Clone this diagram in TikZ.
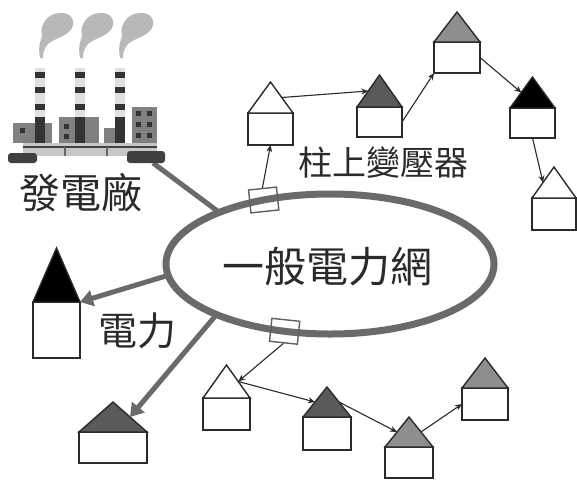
\documentclass[tikz,border=0pt]{standalone}
\usepackage{fontspec}
\newfontfamily\cjk{Noto Sans CJK TC}
\usetikzlibrary{shapes.geometric,arrows.meta,calc}
\definecolor{gridgray}{HTML}{6A6A6A}
\definecolor{roofdark}{HTML}{5A5A5A}
\definecolor{roofmid}{HTML}{8E8E8E}
\definecolor{ink}{HTML}{2A2A2A}
\tikzset{
  housebody/.style={draw=ink, line width=1.4pt, fill=white, rectangle, inner sep=0pt, outer sep=0pt, anchor=north west},
  roofline/.style={draw=ink, line width=1.4pt, line join=miter},
  feed/.style={draw=ink, line width=1.1pt, -{Stealth[length=7pt,width=6pt]}},
  supply/.style={draw=gridgray, line width=5pt, -{Triangle[length=13pt,width=16pt]}},
  xfmr/.style={draw=ink!75, line width=1.4pt, rectangle, minimum width=28pt, minimum height=23pt, inner sep=0pt},
  cjklabel/.style={text=ink, inner sep=0pt, font=\cjk\fontsize{#1}{#1}\selectfont},
  smoke/.style={fill=black!28},
  bldg/.style={fill=black!50},
  win/.style={fill=black!80},
}
% house: name, left x, roof base y, width, roof height, body height, roof colour
\newcommand{\house}[7]{%
  \node[housebody, minimum width=#4pt, minimum height=#6pt] (#1) at (#2,#3) {};
  \coordinate (#1-top) at ($(#1.north)+(0,-#5)$);
  \filldraw[roofline, fill=#7] (#1.north west) -- (#1-top) -- (#1.north east) -- cycle;
  \coordinate (#1-rl) at ($(#1.north west)!0.5!(#1-top)$);
  \coordinate (#1-rr) at ($(#1.north east)!0.5!(#1-top)$);
}
\begin{document}
\begin{tikzpicture}[x=1pt,y=-1pt]
\fill[white] (0,0) rectangle (577,480);
\useasboundingbox (0,0) rectangle (577,480);

% power grid ring
\node[draw=gridgray, line width=7pt, ellipse, minimum width=328pt, minimum height=140pt,
      inner sep=0pt, outer sep=0pt] (grid) at (330,264) {};
\node[cjklabel=42pt] (gridname) at (327,267) {一般電力網};

% line from the plant into the grid
\coordinate (plant) at (153,163);
\draw[gridgray, line width=5pt] (plant) -- (grid.155);

% power plant pictogram
\foreach \dx in {0,40,80}{
  \fill[smoke, shift={(\dx,0)}] (40,58) .. controls (38,48) and (40,42) .. (42,36)
    .. controls (39,25) and (48,13) .. (60,13) .. controls (70,12) and (76,20) .. (72,28)
    .. controls (68,36) and (55,38) .. (48,44) .. controls (44,48) and (43,53) .. (43,58) -- cycle;
}
\fill[bldg] (13,123) rectangle (52,143);
\fill[bldg] (59,117) rectangle (99,143);
\fill[bldg] (104,128) rectangle (117,143);
\fill[bldg] (132,107) rectangle (157,143);
\fill[win] (20,128) rectangle (25,133);
\fill[win] (64,124) rectangle (69,129);
\fill[win] (64,134) rectangle (69,139);
\foreach \wx in {136,147}{
  \foreach \wy in {111,122,133}{
    \fill[win] (\wx,\wy) rectangle (\wx+5,\wy+5);
  }
}
\foreach \c in {40,80,120}{
  \fill[black!12] (\c-5,68) rectangle (\c+5,143);
  \fill[black!80] (\c-5,72) rectangle (\c+5,78);
  \fill[black!80] (\c-5,87) rectangle (\c+5,93);
  \fill[black!80] (\c-5,104) rectangle (\c+5,110);
  \fill[black!80] (\c-5,117) rectangle (\c+5,143);
}
\fill[black!22] (23,143) rectangle (157,156);
\draw[black!75, line width=1.5pt] (23,147) -- (157,147);
\draw[black!60, line width=1.2pt] (65,147) -- (65,156) (107,147) -- (107,156);
\fill[black!75, rounded corners=3pt] (8,153) rectangle (37,163);
\fill[black!75, rounded corners=3pt] (127,151) rectangle (165,163);
\node[cjklabel=41pt] (plantname) at (81,193) {發電廠};

% pole transformers on the ring
\node[xfmr, rotate=6] (t1) at (grid.136) {};
\node[xfmr, rotate=-6] (t2) at (grid.236) {};
\node[cjklabel=34pt] (xfmrname) at (383,163) {柱上變壓器};

% houses fed from the upper transformer
\house{A}{248}{113}{45}{31}{32}{white}
\house{B}{357}{107}{45}{32}{30}{roofdark}
\house{C}{434}{42}{46}{30}{31}{roofmid}
\house{D}{510}{108}{45}{31}{30}{black}
\house{E}{532}{198}{44}{31}{32}{white}
\draw[feed] (t1.north) -- (A.south);
\draw[feed] (A-rr) -- (B-rl);
\draw[feed] (B.east) -- (C.south west);
\draw[feed] (C.east) -- (D-rl);
\draw[feed] (D.south) -- (E-rl);

% houses fed from the lower transformer
\house{F}{203}{398}{47}{33}{32}{white}
\house{G}{303}{417}{48}{30}{33}{roofdark}
\house{H}{385}{447}{48}{30}{31}{roofmid}
\house{I}{462}{388}{46}{30}{32}{roofmid}
\draw[feed] (t2.south) -- (F-rr);
\draw[feed] (F-rr) -- (G-rl);
\draw[feed] (G-rr) -- (H-rl);
\draw[feed] (H-rr) -- (I.west);

% houses supplied directly
\house{J}{33}{302}{47}{54}{56}{black}
\house{K}{79}{432}{68}{30}{31}{roofdark}
\draw[supply] (grid.184) -- (J.north east);
\draw[supply] (grid.204) -- (K-rr);
\node[cjklabel=39pt] (powername) at (137,331) {電力};
\end{tikzpicture}
\end{document}
